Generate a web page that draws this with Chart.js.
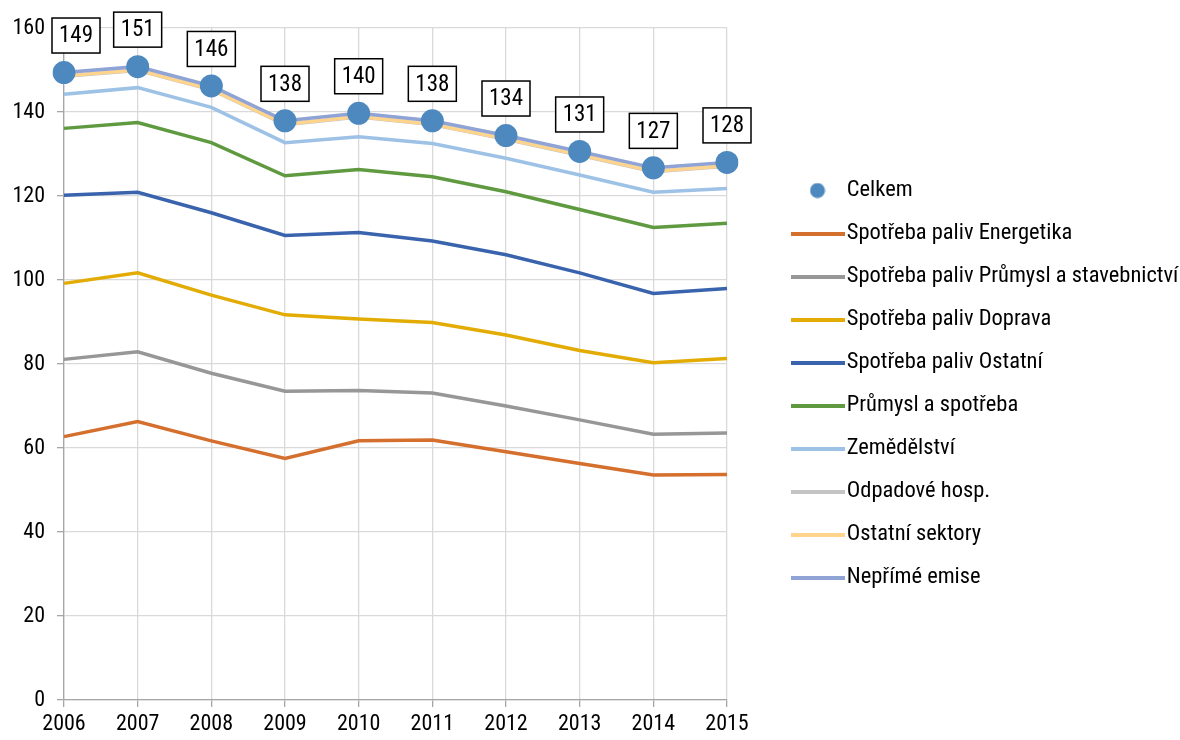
<!DOCTYPE html>
<html>
<head>
<meta charset="utf-8">
<script src="https://cdn.jsdelivr.net/npm/chart.js@4/dist/chart.umd.min.js"></script>
<style>
  html, body { margin: 0; padding: 0; background: #fff; }
  #wrap { width: 1180px; height: 740px; }
</style>
</head>
<body>
<div id="wrap"><canvas id="chart" width="1180" height="740"></canvas></div>
<script>
const years = ['2006', '2007', '2008', '2009', '2010', '2011', '2012', '2013', '2014', '2015'];
const yTicks = [0, 20, 40, 60, 80, 100, 120, 140, 160];

// cumulative levels
const celkem       = [149.4, 150.8, 146.2, 137.9, 139.7, 137.9, 134.4, 130.6, 126.7, 128.0];
const energetika   = [62.7, 66.3, 61.7, 57.5, 61.7, 61.9, 59.1, 56.3, 53.6, 53.7];
const prumyslStav  = [81.1, 82.9, 77.8, 73.5, 73.7, 73.1, 70.0, 66.7, 63.3, 63.6];
const doprava      = [99.2, 101.7, 96.4, 91.7, 90.7, 89.9, 86.9, 83.2, 80.3, 81.3];
const ostatni      = [120.2, 120.9, 116.0, 110.6, 111.3, 109.3, 106.0, 101.7, 96.8, 98.0];
const prumyslSpotr = [136.1, 137.5, 132.7, 124.8, 126.3, 124.6, 121.0, 116.8, 112.5, 113.5];
const zemedelstvi  = [144.2, 145.8, 141.1, 132.7, 134.1, 132.5, 129.0, 125.0, 120.9, 121.8];
const odpadove     = [148.5, 149.9, 145.3, 137.0, 138.8, 137.0, 133.5, 129.7, 125.8, 127.1];
const ostSektory   = [148.6, 150.0, 145.4, 137.1, 138.9, 137.1, 133.6, 129.8, 125.9, 127.2];
const neprime      = [149.4, 150.8, 146.2, 137.9, 139.7, 137.9, 134.4, 130.6, 126.7, 128.0];

const FONT = "'Roboto Condensed', Roboto, sans-serif";

function lineSwatch(color) {
    const c = document.createElement('canvas');
    c.width = 54;
    c.height = 4;
    const g = c.getContext('2d');
    g.fillStyle = color;
    g.fillRect(0, 0, 54, 4);
    return c;
}

function dotSwatch(color) {
    const c = document.createElement('canvas');
    c.width = 16;
    c.height = 16;
    const g = c.getContext('2d');
    g.fillStyle = color;
    g.beginPath();
    g.arc(8, 8, 7.5, 0, Math.PI * 2);
    g.fill();
    return c;
}

function lineSet(label, data, color, order) {
    return {
        label: label,
        data: data,
        borderColor: color,
        backgroundColor: color,
        borderWidth: 3.5,
        pointRadius: 0,
        pointHoverRadius: 0,
        tension: 0,
        fill: false,
        order: order
    };
}

const datasets = [
    {
        label: 'Celkem',
        data: celkem,
        showLine: false,
        pointRadius: 11.5,
        pointHoverRadius: 11.5,
        pointBackgroundColor: '#4d89bf',
        pointBorderWidth: 0,
        borderColor: '#4d89bf',
        backgroundColor: '#4d89bf',
        order: 0
    },
    lineSet('Spotřeba paliv Energetika', energetika, '#d46f2e', 9),
    lineSet('Spotřeba paliv Průmysl a stavebnictví', prumyslStav, '#979797', 8),
    lineSet('Spotřeba paliv Doprava', doprava, '#e2ac05', 7),
    lineSet('Spotřeba paliv Ostatní', ostatni, '#3a63ad', 6),
    lineSet('Průmysl a spotřeba', prumyslSpotr, '#609a40', 5),
    lineSet('Zemědělství', zemedelstvi, '#9dc2e6', 4),
    lineSet('Odpadové hosp.', odpadove, '#c4c4c4', 3),
    lineSet('Ostatní sektory', ostSektory, '#ffd48c', 2),
    lineSet('Nepřímé emise', neprime, '#8fa3d5', 1)
];

// boxed value labels above the Celkem dots
const totalLabels = {
    id: 'totalLabels',
    afterDatasetsDraw(chart) {
        const meta = chart.getDatasetMeta(0);
        const ctx = chart.ctx;
        const area = chart.chartArea;
        ctx.save();
        ctx.font = '23px ' + FONT;
        ctx.textAlign = 'center';
        ctx.textBaseline = 'middle';
        meta.data.forEach((pt, i) => {
            const w = 48, h = 35;
            let left = pt.x - w / 2;
            if (left < area.left - 12) left = area.left - 12;
            const top = pt.y - 54.5;
            ctx.fillStyle = '#fff';
            ctx.fillRect(left, top, w, h);
            ctx.lineWidth = 1.5;
            ctx.strokeStyle = '#000';
            ctx.strokeRect(left, top, w, h);
            ctx.fillStyle = '#000';
            ctx.fillText(String(Math.round(celkem[i])), left + w / 2, top + h / 2 + 1);
        });
        ctx.restore();
    }
};

new Chart(document.getElementById('chart'), {
    type: 'line',
    data: { labels: years, datasets: datasets },
    plugins: [totalLabels],
    options: {
        responsive: false,
        animation: false,
        events: [],
        layout: { padding: { top: 28, right: 0, bottom: 0, left: 0 } },
        plugins: {
            tooltip: { enabled: false },
            legend: {
                position: 'right',
                maxHeight: 706,
                maxWidth: 401,
                labels: {
                    usePointStyle: true,
                    pointStyleWidth: 36,
                    padding: 20.5,
                    color: '#000',
                    font: { family: FONT, size: 22.5 },
                    generateLabels(chart) {
                        return chart.data.datasets.map((ds, i) => ({
                            text: ds.label,
                            fillStyle: ds.backgroundColor,
                            strokeStyle: ds.borderColor,
                            lineWidth: 0,
                            hidden: false,
                            datasetIndex: i,
                            pointStyle: i === 0 ? dotSwatch(ds.backgroundColor) : lineSwatch(ds.borderColor)
                        }));
                    }
                }
            }
        },
        scales: {
            x: {
                type: 'category',
                offset: false,
                grid: {
                    color: '#d9d9d9',
                    tickColor: '#a6a6a6',
                    tickLength: 7,
                    lineWidth: 1.3
                },
                border: { color: '#a6a6a6', width: 1.3 },
                ticks: {
                    color: '#000',
                    padding: 4,
                    maxRotation: 0,
                    autoSkip: false,
                    font: { family: FONT, size: 22 }
                },
                afterFit(scale) { scale.height = 40; }
            },
            y: {
                min: 0,
                max: 160,
                grid: {
                    color: '#d9d9d9',
                    tickColor: '#a6a6a6',
                    tickLength: 7,
                    lineWidth: 1.3
                },
                border: { color: '#a6a6a6', width: 1.3 },
                afterBuildTicks(scale) {
                    scale.ticks = yTicks.map(v => ({ value: v }));
                },
                ticks: {
                    color: '#000',
                    padding: 12,
                    font: { family: FONT, size: 22 }
                },
                afterFit(scale) { scale.width = 64; }
            },
            y2: {
                position: 'right',
                display: true,
                grid: { display: false },
                border: { display: false },
                ticks: { display: false },
                afterFit(scale) { scale.width = 52; }
            }
        }
    }
});
</script>
</body>
</html>
